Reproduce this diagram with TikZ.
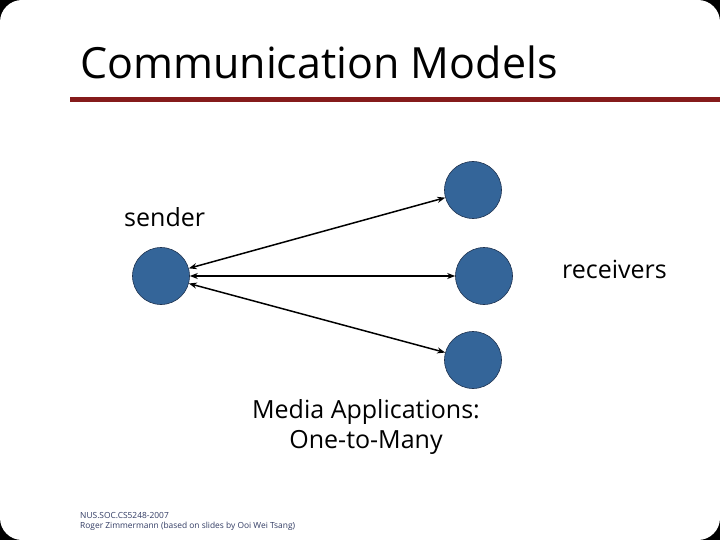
\documentclass[tikz,border=0pt]{standalone}
\usepackage{fontspec}
\setmainfont{Open Sans}
\usepackage{tikz}
\usetikzlibrary{positioning, arrows.meta, calc}

\definecolor{slidered}{RGB}{133,27,27}
\definecolor{nodeblue}{RGB}{52,101,153}
\definecolor{nodeedge}{RGB}{30,50,80}
\definecolor{footblue}{RGB}{50,60,100}

\begin{document}
\begin{tikzpicture}[
		x=1pt, y=-1pt,
		% --- styles ---
		peer/.style={circle, fill=nodeblue, draw=nodeedge, line width=0.6pt, minimum size=57pt, inner sep=0pt},
		link/.style={{Stealth[length=8pt,width=6pt]}-{Stealth[length=8pt,width=6pt]}, line width=1.5pt, black},
		label/.style={font=\fontsize{25}{30}\selectfont, inner sep=0pt}
		]
		
		% --- 1. SLIDE BACKGROUND ---
		\fill[black] (0,0) rectangle (720,540);
		\fill[white, rounded corners=22pt] (0,0) rectangle (720,540);
		\useasboundingbox (0,0) rectangle (720,540);
		
		% --- 2. TITLE ---
		\node[anchor=base west, inner sep=0pt, font=\fontsize{43}{50}\selectfont] (title) at (80,79) {Communication Models};
		\fill[slidered] (70,97) rectangle (720,102);
		
		% --- 3. SENDER AND RECEIVERS ---
		\node[peer] (sender) at (161,276) {};
		\node[peer] (recvA) at (473,190) {};
		\node[peer] (recvB) at (484,276) {};
		\node[peer] (recvC) at (473,360) {};
		
		% Connectors
		\draw[link] (sender) -- (recvA);
		\draw[link] (sender) -- (recvB);
		\draw[link] (sender) -- (recvC);
		
		% Labels
		\node[label, anchor=base west] (sendlbl) at (124,226) {sender};
		\node[label, anchor=base east] (recvlbl) at (667,278) {receivers};
		\node[label, align=center, anchor=base] (caption) at (366,448) {Media Applications:\\One-to-Many};
		
		% --- 4. FOOTER ---
		\node[anchor=base west, inner sep=0pt, align=left, text=footblue, font=\fontsize{8.4}{9.5}\selectfont] (footer) at (80,528) {NUS.SOC.CS5248-2007\\Roger Zimmermann (based on slides by Ooi Wei Tsang)};
		
	\end{tikzpicture}
\end{document}
